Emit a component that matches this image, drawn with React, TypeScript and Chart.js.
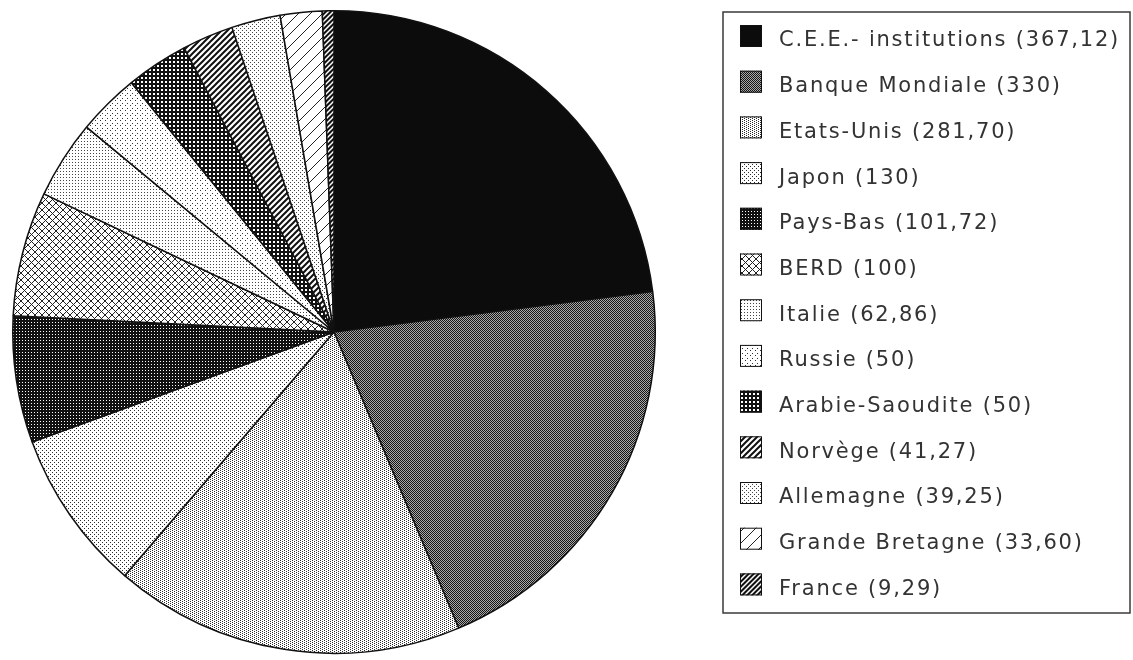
import React, { useEffect, useRef } from "react";
import { Chart, registerables } from "chart.js";

Chart.register(...registerables);

const countries = [
  "C.E.E.- institutions",
  "Banque Mondiale",
  "Etats-Unis",
  "Japon",
  "Pays-Bas",
  "BERD",
  "Italie",
  "Russie",
  "Arabie-Saoudite",
  "Norvège",
  "Allemagne",
  "Grande Bretagne",
  "France",
];

const amounts = [367.12, 330, 281.7, 130, 101.72, 100, 62.86, 50, 50, 41.27, 39.25, 33.6, 9.29];

const fmt = (v: number) => (Number.isInteger(v) ? String(v) : v.toFixed(2).replace(".", ","));
const legendLabels = countries.map((c, i) => `${c} (${fmt(amounts[i])})`);

function makePatterns(ctx: CanvasRenderingContext2D): (string | CanvasPattern)[] {
  const mk = (w: number, h: number, fn: (g: CanvasRenderingContext2D) => void) => {
    const c = document.createElement("canvas");
    c.width = w;
    c.height = h;
    const g = c.getContext("2d")!;
    fn(g);
    return ctx.createPattern(c, "repeat")!;
  };
  const dots = (bg: string, fg: string, w: number, h: number, pts: number[][]) =>
    mk(w, h, (g) => {
      g.fillStyle = bg;
      g.fillRect(0, 0, w, h);
      g.fillStyle = fg;
      pts.forEach(([x, y, s = 1]) => g.fillRect(x, y, s, s));
    });
  const diag = (bg: string, fg: string, s: number, lw: number, cross = false) =>
    mk(s, s, (g) => {
      g.fillStyle = bg;
      g.fillRect(0, 0, s, s);
      g.strokeStyle = fg;
      g.lineWidth = lw;
      g.beginPath();
      for (const c of [0, s, 2 * s]) {
        g.moveTo(-1, c + 1);
        g.lineTo(s + 1, c - s - 1);
      }
      if (cross) {
        for (const c of [-s, 0, s]) {
          g.moveTo(-1, c - 1);
          g.lineTo(s + 1, c + s + 1);
        }
      }
      g.stroke();
    });
  return [
    "#0c0c0c",
    dots("#a8a8a8", "#151515", 2, 2, [[0, 0], [1, 1]]),
    dots("#ffffff", "#2a2a2a", 4, 2, [[0, 0], [2, 1]]),
    dots("#ffffff", "#2a2a2a", 4, 4, [[0, 0], [2, 2]]),
    dots("#111111", "#ffffff", 3, 3, [[1, 1]]),
    diag("#ffffff", "#222222", 7, 1, true),
    dots("#ffffff", "#444444", 3, 3, [[0, 0]]),
    dots("#ffffff", "#333333", 5, 5, [[0, 0], [2, 3]]),
    dots("#111111", "#ffffff", 4, 4, [[1, 1, 2]]),
    diag("#ffffff", "#111111", 6, 2),
    dots("#ffffff", "#444444", 4, 4, [[0, 0], [2, 2]]),
    diag("#ffffff", "#222222", 12, 1),
    diag("#111111", "#ffffff", 5, 1.5),
  ];
}

const legendBoxPlugin = {
  id: "legendBox",
  afterDraw(chart: any) {
    const ctx: CanvasRenderingContext2D = chart.ctx;
    const labels: string[] = chart.data.labels;
    const fills = chart.data.datasets[0].backgroundColor;
    ctx.save();
    ctx.strokeStyle = "#3a3a3a";
    ctx.lineWidth = 1.5;
    ctx.strokeRect(723, 12, 407, 601);
    const top = 36;
    const step = 45.7;
    ctx.font = "21px 'DejaVu Sans'";
    (ctx as any).letterSpacing = "1.8px";
    ctx.textBaseline = "middle";
    labels.forEach((lab, i) => {
      const cy = top + i * step;
      ctx.fillStyle = fills[i];
      ctx.fillRect(740, cy - 11, 22, 22);
      ctx.strokeStyle = "#111";
      ctx.lineWidth = 1;
      ctx.strokeRect(740.5, cy - 10.5, 21, 21);
      ctx.fillStyle = "#333333";
      ctx.fillText(lab, 779, cy + 5);
    });
    ctx.restore();
  },
};

export default function App() {
  const ref = useRef<HTMLCanvasElement | null>(null);
  useEffect(() => {
    const canvas = ref.current!;
    const ctx = canvas.getContext("2d")!;
    const fills = makePatterns(ctx);
    const chart = new Chart(canvas, {
      type: "pie",
      data: {
        labels: legendLabels,
        datasets: [
          {
            data: amounts,
            backgroundColor: fills as any,
            borderColor: "#111111",
            borderWidth: 1.5,
          },
        ],
      },
      options: {
        animation: false,
        responsive: true,
        maintainAspectRatio: false,
        events: [],
        layout: { padding: { left: 12, top: 10, bottom: 6, right: 477 } },
        plugins: { legend: { display: false }, tooltip: { enabled: false } },
      },
      plugins: [legendBoxPlugin],
    });
    return () => chart.destroy();
  }, []);
  return (
    <div style={{ position: "fixed", left: 0, top: 0, width: 1133, height: 660, background: "#fff" }}>
      <canvas ref={ref} />
    </div>
  );
}
